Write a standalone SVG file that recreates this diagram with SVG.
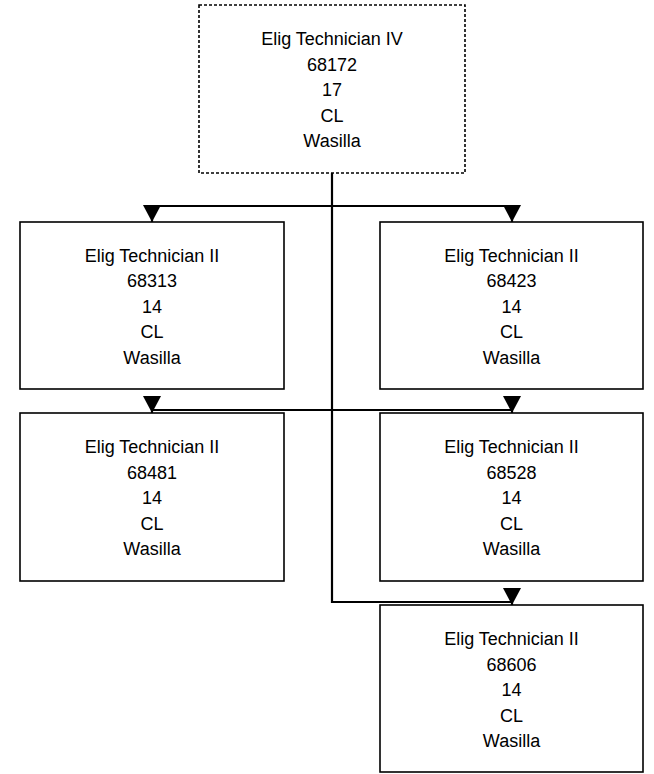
<svg xmlns="http://www.w3.org/2000/svg" width="654" height="774" viewBox="0 0 654 774">
<style>
.box{fill:#fff;stroke:#000;stroke-width:1.6}
.dot{fill:#fff;stroke:#000;stroke-width:1.6;stroke-dasharray:3 2}
.conn{fill:none;stroke:#000;stroke-width:2.2}
text{font-family:"Liberation Sans",Arial,sans-serif;font-size:18px;fill:#000;text-anchor:middle}
</style>
<defs>
<marker id="arr" viewBox="0 0 17 18" refX="17" refY="9" markerWidth="17" markerHeight="18" markerUnits="userSpaceOnUse" orient="auto">
<path d="M0,0 L17,9 L0,18 z" fill="#000"/>
</marker>
</defs>
<g id="connectors">
<path class="conn" d="M332,206 H152 V222" marker-end="url(#arr)"/>
<path class="conn" d="M332,206 H512 V222" marker-end="url(#arr)"/>
<path class="conn" d="M332,410 H152 V413" marker-end="url(#arr)"/>
<path class="conn" d="M332,410 H512 V413" marker-end="url(#arr)"/>
<path class="conn" d="M332,173 V602 H512 V605" marker-end="url(#arr)"/>
</g>
<g id="n68172">
<rect class="dot" x="199" y="5" width="266" height="168"/>
<text x="332" y="45">Elig Technician IV</text>
<text x="332" y="70.5">68172</text>
<text x="332" y="96">17</text>
<text x="332" y="121.5">CL</text>
<text x="332" y="147">Wasilla</text>
</g>
<g id="n68313">
<rect class="box" x="20" y="222" width="264" height="167"/>
<text x="152" y="261.5">Elig Technician II</text>
<text x="152" y="287">68313</text>
<text x="152" y="312.5">14</text>
<text x="152" y="338">CL</text>
<text x="152" y="363.5">Wasilla</text>
</g>
<g id="n68423">
<rect class="box" x="380" y="222" width="263" height="167"/>
<text x="511.5" y="261.5">Elig Technician II</text>
<text x="511.5" y="287">68423</text>
<text x="511.5" y="312.5">14</text>
<text x="511.5" y="338">CL</text>
<text x="511.5" y="363.5">Wasilla</text>
</g>
<g id="n68481">
<rect class="box" x="20" y="413" width="264" height="168"/>
<text x="152" y="453">Elig Technician II</text>
<text x="152" y="478.5">68481</text>
<text x="152" y="504">14</text>
<text x="152" y="529.5">CL</text>
<text x="152" y="555">Wasilla</text>
</g>
<g id="n68528">
<rect class="box" x="380" y="413" width="263" height="168"/>
<text x="511.5" y="453">Elig Technician II</text>
<text x="511.5" y="478.5">68528</text>
<text x="511.5" y="504">14</text>
<text x="511.5" y="529.5">CL</text>
<text x="511.5" y="555">Wasilla</text>
</g>
<g id="n68606">
<rect class="box" x="380" y="605" width="263" height="167"/>
<text x="511.5" y="645">Elig Technician II</text>
<text x="511.5" y="670.5">68606</text>
<text x="511.5" y="696">14</text>
<text x="511.5" y="721.5">CL</text>
<text x="511.5" y="747">Wasilla</text>
</g>
</svg>
